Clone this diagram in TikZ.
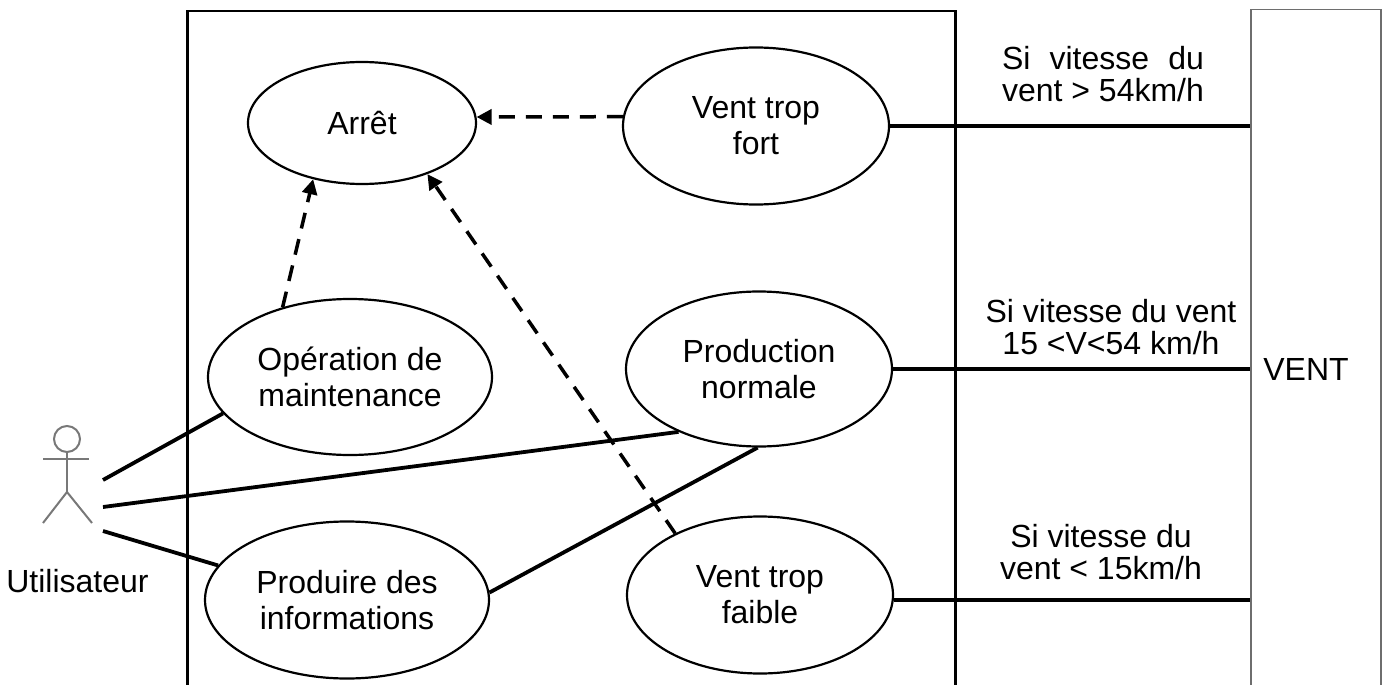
\documentclass[tikz,border=0pt]{standalone}
\usepackage{fontspec}
\setmainfont{Liberation Sans}
\usepackage{calc}
\usetikzlibrary{shapes.geometric,arrows.meta}
\definecolor{actorgray}{RGB}{120,120,120}
\definecolor{ventgray}{RGB}{110,110,110}
\newcommand\ucfont{\fontsize{32}{36}\selectfont}
\newcommand\lblfont{\fontsize{32}{32}\selectfont}
\begin{document}
\begin{tikzpicture}[x=1pt,y=-1pt,
  usecase/.style={ellipse,draw,line width=2.2pt,inner sep=0pt,align=center,font=\ucfont},
  assoc/.style={line width=3.8pt},
  dep/.style={line width=3.5pt,dash pattern=on 16pt off 11pt,-{Triangle[length=15pt,width=15pt]}},
  lbl/.style={inner sep=0pt,align=center,font=\lblfont},
  actorline/.style={draw=actorgray,line width=2pt}]
\useasboundingbox (0,0) rectangle (1385,685);
% frames
\node[draw,line width=2.5pt,inner sep=0pt,minimum width=768pt,minimum height=720pt,anchor=north west] (system) at (186,10) {};
\node[draw=ventgray,line width=1.5pt,inner sep=0pt,minimum width=130pt,minimum height=720pt,anchor=north west] (ventbox) at (1250,9) {};
\node[font=\ucfont,inner sep=0pt] (ventlbl) at (1306,369) {VENT};
% use cases
\node[usecase,minimum width=228pt,minimum height=122pt] (arret) at (362,123) {Arrêt};
\node[usecase,minimum width=266pt,minimum height=157pt] (vfort) at (756,126) {Vent trop\\fort};
\node[usecase,minimum width=284pt,minimum height=156pt] (maint) at (350,377) {Opération de\\maintenance};
\node[usecase,minimum width=266pt,minimum height=155pt] (prod) at (759,369) {Production\\normale};
\node[usecase,minimum width=284pt,minimum height=157pt] (info) at (347,600) {Produire des\\informations};
\node[usecase,minimum width=266pt,minimum height=157pt] (vfaible) at (760,595) {Vent trop\\faible};
% actor
\draw[actorline] (67,439) circle[radius=13];
\draw[actorline] (43,459) -- (89,459);
\draw[actorline] (67,452) -- (67,492);
\draw[actorline] (43,523) -- (67,492) -- (92,523);
\node[font=\ucfont,inner sep=0pt] (actor) at (77.5,581.5) {Utilisateur};
\coordinate (u1) at (103,480);
\coordinate (u2) at (103,507);
\coordinate (u3) at (103,531);
% associations
\draw[assoc] (u1) -- (maint.196);
\draw[assoc] (u2) -- (prod.218);
\draw[assoc] (u3) -- (info.165.5);
\draw[assoc] (info.3) -- (prod.269);
\draw[assoc] (vfort.east) -- (vfort.east -| ventbox.west);
\draw[assoc] (prod.east) -- (prod.east -| ventbox.west);
\draw[assoc] (vfaible.-2) -- (vfaible.-2 -| ventbox.west);
% dependencies
\draw[dep] (vfort.176) -- (arret.3);
\draw[dep] (maint.134) -- (arret.229);
\draw[dep] (vfaible.144) -- (arret.322);
% labels
\node[lbl] (l1) at (1103,74) {\makebox[\widthof{vent > 54km/h}][s]{Si vitesse du}\\vent > 54km/h};
\node[lbl] (l2) at (1111,327) {Si vitesse du vent\\15 <V<54 km/h};
\node[lbl] (l3) at (1101,552) {Si vitesse du\\vent < 15km/h};
\end{tikzpicture}
\end{document}
